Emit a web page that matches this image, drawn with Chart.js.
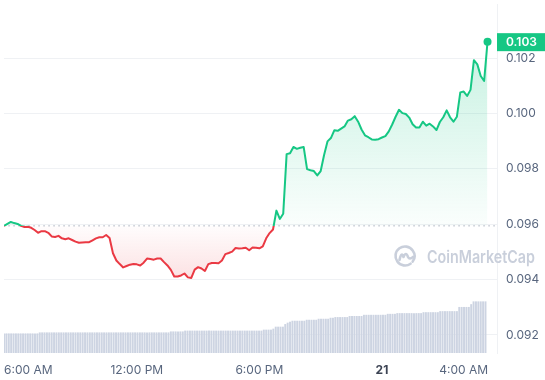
<!DOCTYPE html>
<html lang="en">
<head>
<meta charset="UTF-8">
<title>Price chart</title>
<script src="https://cdn.jsdelivr.net/npm/chart.js"></script>
<style>
  html, body { margin: 0; padding: 0; background: #fff; }
  #wrap { width: 545px; height: 380px; }
</style>
</head>
<body>
<div id="wrap"><canvas id="priceChart"></canvas></div>
<script>
// time axis in hours since midnight of day 20 (24 = the "21" tick)
const startHour = 5.5;
const endHour = 29.63;
const priceStepMin = 10;
const volumeStepMin = 7;

const prices = [
  0.09594, 0.09601, 0.09608, 0.09604, 0.09601, 0.09594, 0.09590, 0.09591, 0.09587, 0.09579,
  0.09569, 0.09575, 0.09575, 0.09569, 0.09556, 0.09554, 0.09558, 0.09549, 0.09546, 0.09549,
  0.09543, 0.09537, 0.09533, 0.09534, 0.09535, 0.09535, 0.09542, 0.09549, 0.09553, 0.09553,
  0.09561, 0.09550, 0.09495, 0.09469, 0.09456, 0.09444, 0.09449, 0.09454, 0.09456, 0.09455,
  0.09451, 0.09461, 0.09476, 0.09474, 0.09472, 0.09476, 0.09476, 0.09463, 0.09451, 0.09435,
  0.09411, 0.09411, 0.09415, 0.09422, 0.09408, 0.09406, 0.09436, 0.09445, 0.09440, 0.09431,
  0.09456, 0.09460, 0.09460, 0.09459, 0.09469, 0.09492, 0.09496, 0.09501, 0.09514, 0.09512,
  0.09513, 0.09515, 0.09506, 0.09516, 0.09515, 0.09513, 0.09520, 0.09549, 0.09568, 0.09581,
  0.09649, 0.09619, 0.09638, 0.09853, 0.09856, 0.09879, 0.09872, 0.09876, 0.09879, 0.09799,
  0.09795, 0.09792, 0.09776, 0.09792, 0.09850, 0.09899, 0.09911, 0.09939, 0.09937, 0.09945,
  0.09953, 0.09974, 0.09979, 0.09990, 0.09970, 0.09942, 0.09921, 0.09914, 0.09906, 0.09905,
  0.09907, 0.09913, 0.09918, 0.09935, 0.09960, 0.09988, 0.10013, 0.10001, 0.09998, 0.09985,
  0.09961, 0.09949, 0.09949, 0.09970, 0.09956, 0.09963, 0.09953, 0.09940, 0.09969, 0.09986,
  0.10011, 0.09986, 0.09970, 0.09988, 0.10076, 0.10079, 0.10063, 0.10085, 0.10192, 0.10177,
  0.10135, 0.10117, 0.10259
];

const volumes = [
  5.52, 5.52, 5.52, 5.52, 5.52, 5.52, 5.52, 5.52, 5.52, 5.52, 5.52, 5.52, 5.52, 5.52, 5.52,
  5.81, 5.81, 5.81, 5.81, 5.81, 5.81, 5.81, 5.81, 5.81, 5.81,
  5.81, 5.81, 5.81, 5.81, 5.81, 5.81, 5.81, 5.81, 5.81, 5.81,
  5.81, 5.81, 5.81, 5.81, 5.81, 5.81, 5.81, 5.81, 5.81, 5.81,
  5.81, 5.81, 5.81, 5.81, 5.81, 5.81, 5.81, 5.81, 5.81, 5.81,
  5.81, 5.81, 5.81, 5.81, 5.81, 5.81, 5.81, 5.81, 5.81, 5.81,
  5.81, 5.81, 5.81, 5.81, 5.81,
  6.09, 6.09, 6.09, 6.09, 6.09, 6.09,
  6.32, 6.32, 6.32, 6.32, 6.32, 6.32, 6.32, 6.32, 6.32, 6.32, 6.32,
  6.32, 6.32, 6.32, 6.32, 6.32, 6.32, 6.32, 6.32, 6.32, 6.32, 6.32,
  6.32, 6.32, 6.32, 6.32, 6.32, 6.32, 6.32, 6.32, 6.32, 6.32, 6.32,
  6.60, 6.60, 6.60, 6.60, 6.88, 7.45, 7.45, 7.45, 7.45, 8.20, 8.60, 8.87,
  9.15, 9.15, 9.15, 9.15, 9.15, 9.15,
  9.43, 9.43, 9.43, 9.43, 9.43, 9.72, 9.72, 9.72, 9.72, 9.72, 10.0, 10.0,
  10.2, 10.2, 10.2, 10.2, 10.2, 10.2, 10.5, 10.5, 10.5, 10.5, 10.5, 10.5,
  10.85, 10.85, 10.85, 10.85, 10.85, 10.85, 10.85, 10.85, 10.85, 10.85,
  11.13, 11.13, 11.13, 11.13, 11.33, 11.33, 11.33, 11.33, 11.33, 11.33, 11.33, 11.33, 11.33, 11.33, 11.33,
  11.6, 11.6, 11.6, 11.6, 11.6, 11.6, 11.6, 11.9, 11.9, 11.9, 11.9, 11.9, 11.9, 11.9, 11.9,
  13.1, 13.1, 13.1, 13.1, 13.1, 13.9, 14.7, 14.7, 14.7, 14.7, 14.7, 14.7
];

const xTickHours = [6, 12, 18, 24, 28];
const xTickLabels = ['6:00 AM', '12:00 PM', '6:00 PM', '21', '4:00 AM'];
const yTicks = [0.092, 0.094, 0.096, 0.098, 0.100, 0.102];

const green = '#16c784';
const red = '#ea3943';
const baseline = prices[0];

const pricePoints = prices.map((p, i) => ({ x: startHour + i * priceStepMin / 60, y: p }));
const volumePoints = volumes.map((v, i) => ({ x: startHour + i * volumeStepMin / 60, y: v }));

function baseFrac(chart) {
    const a = chart.chartArea;
    const by = chart.scales.y.getPixelForValue(baseline);
    return Math.min(1, Math.max(0, (by - a.top) / (a.bottom - a.top)));
}

function lineColor(c) {
    const chart = c.chart;
    if (!chart.chartArea) return green;
    const a = chart.chartArea;
    const f = baseFrac(chart);
    const g = chart.ctx.createLinearGradient(0, a.top, 0, a.bottom);
    g.addColorStop(0, green);
    g.addColorStop(f, green);
    g.addColorStop(f, red);
    g.addColorStop(1, red);
    return g;
}

function fillOption(c) {
    const chart = c.chart;
    if (!chart.chartArea) {
        return { target: { value: baseline }, above: 'rgba(22,199,132,0.1)', below: 'rgba(234,57,67,0.1)' };
    }
    const y = chart.scales.y;
    const by = y.getPixelForValue(baseline);
    const topY = y.getPixelForValue(Math.max(...prices));
    const botY = y.getPixelForValue(Math.min(...prices));
    const up = chart.ctx.createLinearGradient(0, topY, 0, by);
    up.addColorStop(0, 'rgba(22,199,132,0.24)');
    up.addColorStop(1, 'rgba(22,199,132,0.02)');
    const down = chart.ctx.createLinearGradient(0, by, 0, botY);
    down.addColorStop(0, 'rgba(234,57,67,0.01)');
    down.addColorStop(1, 'rgba(234,57,67,0.15)');
    return { target: { value: baseline }, above: up, below: down };
}

// keep the first time label inside the plot, like the original
const clampFirstLabel = {
    id: 'clampFirstLabel',
    beforeDraw(chart) {
        const items = chart.scales.x.getLabelItems();
        if (items.length) {
            items[0].options.textAlign = 'left';
            items[0].options.translation[0] = chart.chartArea.left;
        }
    }
};

const watermark = {
    id: 'watermark',
    beforeDatasetsDraw(chart) {
        const { ctx, chartArea } = chart;
        const cx = chartArea.right - 92, cy = chartArea.top + 252;
        ctx.save();
        ctx.strokeStyle = '#c9cfdb';
        ctx.fillStyle = '#c9cfdb';
        ctx.lineWidth = 2.6;
        ctx.lineCap = 'round';
        ctx.lineJoin = 'round';
        ctx.beginPath();
        ctx.arc(cx, cy, 9.5, 0.3 * Math.PI, 2.2 * Math.PI);
        ctx.stroke();
        ctx.beginPath();
        ctx.moveTo(cx - 5.5, cy + 4);
        ctx.quadraticCurveTo(cx - 3.5, cy - 5, cx - 1.5, cy + 1);
        ctx.quadraticCurveTo(cx + 1, cy - 5, cx + 3, cy + 1);
        ctx.quadraticCurveTo(cx + 4.5, cy + 4, cx + 8, cy + 1);
        ctx.stroke();
        ctx.font = '600 17px Inter';
        ctx.textBaseline = 'alphabetic';
        ctx.fillText('CoinMarketCap', cx + 22, cy + 7, 108);
        ctx.restore();
    }
};

const lastBadge = {
    id: 'lastBadge',
    afterDraw(chart) {
        const { ctx, chartArea } = chart;
        const last = prices[prices.length - 1];
        const y = chart.scales.y.getPixelForValue(last);
        ctx.save();
        ctx.fillStyle = green;
        ctx.fillRect(chartArea.right, y - 8.5, chart.width - chartArea.right, 18);
        ctx.fillStyle = '#ffffff';
        ctx.font = '600 12px Inter';
        ctx.textBaseline = 'middle';
        ctx.fillText(last.toFixed(3), chartArea.right + 9, y + 0.8);
        ctx.restore();
    }
};

Chart.defaults.font.family = 'Inter';
Chart.defaults.font.size = 12;

new Chart(document.getElementById('priceChart'), {
    type: 'line',
    data: {
        datasets: [
            {
                type: 'line',
                data: pricePoints,
                yAxisID: 'y',
                borderColor: lineColor,
                borderWidth: 2,
                borderJoinStyle: 'round',
                tension: 0,
                fill: fillOption,
                pointRadius: c => c.dataIndex === prices.length - 1 ? 4 : 0,
                pointBackgroundColor: green,
                pointBorderColor: green,
                pointBorderWidth: 0,
                order: 0
            },
            {
                type: 'line',
                data: [{ x: startHour, y: baseline }, { x: endHour, y: baseline }],
                yAxisID: 'y',
                borderColor: '#9ca4b4',
                borderWidth: 1.4,
                borderDash: [0.1, 4.9],
                borderCapStyle: 'round',
                pointRadius: 0,
                fill: false,
                order: 1
            },
            {
                type: 'bar',
                data: volumePoints,
                yAxisID: 'vol',
                backgroundColor: '#cdd4e2',
                barThickness: 1.3,
                order: 2
            }
        ]
    },
    options: {
        responsive: true,
        maintainAspectRatio: false,
        animation: false,
        events: [],
        layout: { padding: 0 },
        plugins: {
            legend: { display: false },
            tooltip: { enabled: false }
        },
        scales: {
            x: {
                type: 'linear',
                min: startHour,
                max: endHour,
                offset: false,
                grid: { display: false, drawTicks: false },
                border: { display: false },
                afterBuildTicks: s => { s.ticks = xTickHours.map(v => ({ value: v })); },
                afterFit: s => { s.height = 27; s.paddingLeft = 0; s.paddingRight = 0; },
                ticks: {
                    autoSkip: false,
                    maxRotation: 0,
                    padding: 10,
                    color: c => xTickLabels[c.index] === '21' ? '#3d4454' : '#58667e',
                    font: c => ({ family: 'Inter', size: 12, weight: xTickLabels[c.index] === '21' ? '700' : '400' }),
                    callback: (v, i) => xTickLabels[i]
                }
            },
            y: {
                position: 'right',
                min: 0.09135,
                max: 0.10395,
                grid: { color: '#eff1f4', drawTicks: false },
                border: { display: true, color: '#eff1f4' },
                afterBuildTicks: s => { s.ticks = yTicks.map(v => ({ value: v })); },
                afterFit: s => { s.width = 48; s.paddingTop = 0; s.paddingBottom = 0; },
                ticks: {
                    padding: 9,
                    color: '#58667e',
                    callback: v => v.toFixed(3)
                }
            },
            vol: {
                display: false,
                min: 0,
                max: 100
            }
        }
    },
    plugins: [clampFirstLabel, watermark, lastBadge]
});
</script>
</body>
</html>
